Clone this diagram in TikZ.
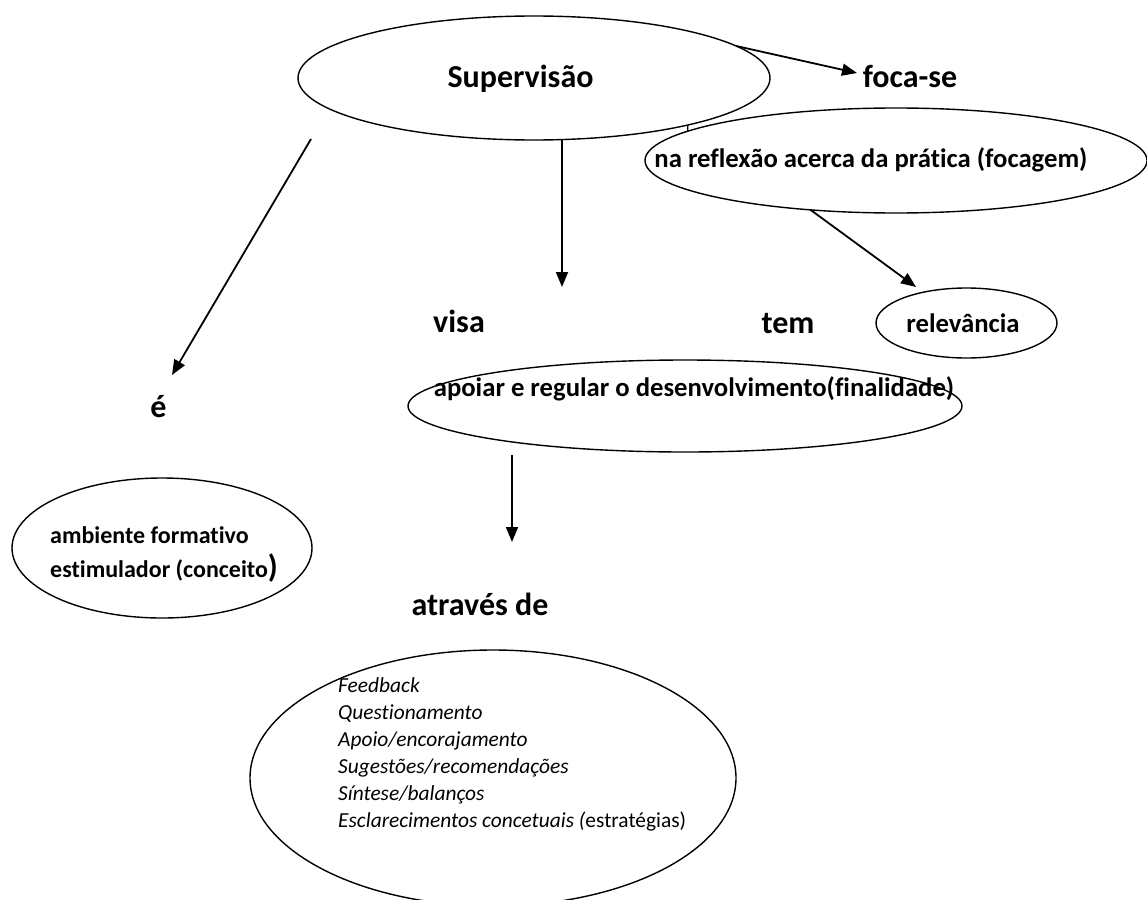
\documentclass[tikz,border=0pt]{standalone}
\usepackage{fontspec}
\setmainfont{Carlito}[Ligatures={NoCommon,NoContextual}]
\usetikzlibrary{shapes.geometric,arrows.meta}
\begin{document}
\begin{tikzpicture}[x=1pt,y=-1pt,
  oval/.style={ellipse,draw,line width=1.4pt,inner sep=0pt,outer sep=0pt},
  big/.style={font=\fontsize{32}{38}\selectfont\bfseries,inner sep=0pt,anchor=base},
  mid/.style={font=\fontsize{26.7}{32}\selectfont\bfseries,inner sep=0pt,anchor=base},
  sml/.style={font=\fontsize{24}{29}\selectfont\bfseries,inner sep=0pt,anchor=base west},
  ita/.style={font=\fontsize{21.4}{26}\selectfont\itshape,inner sep=0pt,anchor=base west},
  arr/.style={line width=1.8pt,-{Triangle[length=15pt,width=12pt]}},
  thin/.style={line width=1.4pt}]
\useasboundingbox (0,0) rectangle (1147,899);

% ellipses
\node[oval,minimum width=472,minimum height=124] (sup) at (534,78) {};
\node[oval,minimum width=502,minimum height=105] (refl) at (896,160.5) {};
\node[oval,minimum width=181,minimum height=70] (rel) at (966.5,323) {};
\node[oval,minimum width=554,minimum height=92] (apo) at (685,406) {};
\node[oval,minimum width=300,minimum height=140] (amb) at (162,548) {};
\node[oval,minimum width=486,minimum height=256] (str) at (493,778) {};

% texts
\node[big] (tsup) at (520.5,87) {Supervisão};
\node[big] (foca) at (910,87) {foca-se};
\node[mid] (trefl) at (871,167) {na reflexão acerca da prática (focagem)};
\node[mid] (trel) at (963,332) {relevância};
\node[big] (tem) at (788,333) {tem};
\node[big] (visa) at (459,332) {visa};
\node[big] (e) at (158.5,417) {é};
\node[mid] (tapo) at (694,396) {apoiar e regular o desenvolvimento(finalidade)};
\node[sml] (amb1) at (50,543) {ambiente formativo};
\node[sml] (amb2) at (50,577) {estimulador (conceito{\fontsize{32}{38}\selectfont)}};
\node[big] (atr) at (480,615) {através de};
\foreach \t [count=\i] in {Feedback,Questionamento,Apoio/encorajamento,Sugestões/recomendações,Síntese/balanços,{Esclarecimentos concetuais (\upshape estratégias)}}
  \node[ita] (s\i) at (338,{692+27*(\i-1)}) {\t};

% free connector ends
\coordinate (fct) at (857,73);
\coordinate (relt) at (916,287);
\coordinate (vt) at (562,287);
\coordinate (d0) at (311,139);
\coordinate (dt) at (172,375);
\coordinate (a0) at (512,455);
\coordinate (at) at (512,542);

% connectors
\draw[arr] (sup.9) -- (fct);
\draw[thin] (sup.-17.7) -- (refl.172.4);
\draw[arr] (refl.-150) -- (relt);
\draw[arr] (sup.south -| vt) -- (vt);
\draw[arr] (d0) -- (dt);
\draw[arr] (a0) -- (at);
\end{tikzpicture}
\end{document}
